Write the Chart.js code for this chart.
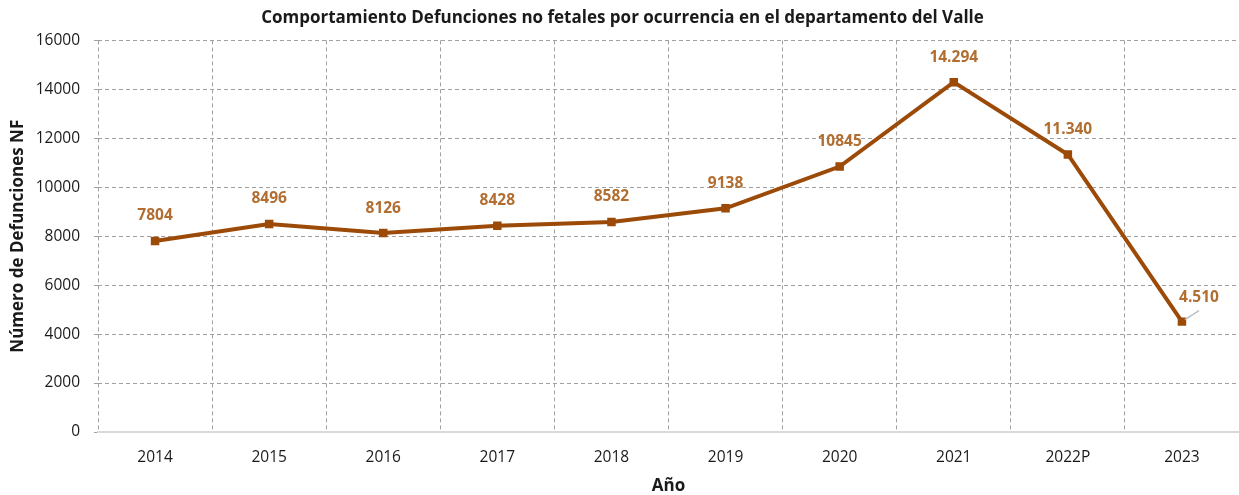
<!DOCTYPE html>
<html>
<head>
<meta charset="utf-8">
<script src="https://cdn.jsdelivr.net/npm/chart.js@4"></script>
<style>
    html, body { margin: 0; padding: 0; background: #fff; overflow: hidden; }
    #wrap { width: 1245px; height: 495px; }
</style>
</head>
<body>
<div id="wrap"><canvas id="chart1" width="1245" height="495"></canvas></div>
<script>
// datos
const years = ['2014', '2015', '2016', '2017', '2018', '2019', '2020', '2021', '2022P', '2023'];
const defunciones = [7804, 8496, 8126, 8428, 8582, 9138, 10845, 14294, 11340, 4510];
const valueLabels = ['7804', '8496', '8126', '8428', '8582', '9138', '10845', '14.294', '11.340', '4.510'];
const yTicks = [0, 2000, 4000, 6000, 8000, 10000, 12000, 14000, 16000];

const lineColor = 'rgb(156, 74, 8)';
const labelColor = 'rgb(178, 110, 48)';
const gridColor = 'rgb(160, 160, 160)';
const fontFam = 'Open Sans';

// etiquetas de valor sobre cada punto
const valueLabelPlugin = {
    id: 'valueLabels',
    afterDatasetsDraw(chart) {
        const ctx = chart.ctx;
        const meta = chart.getDatasetMeta(0);
        ctx.save();
        ctx.font = 'bold 15.5px ' + fontFam;
        ctx.fillStyle = labelColor;
        ctx.textAlign = 'center';
        ctx.textBaseline = 'middle';
        meta.data.forEach(function (pt, i) {
            if (i === meta.data.length - 1) {
                // ultima etiqueta desplazada con linea guia
                ctx.strokeStyle = 'rgb(190,190,190)';
                ctx.lineWidth = 1.5;
                ctx.beginPath();
                ctx.moveTo(pt.x + 3, pt.y - 2);
                ctx.lineTo(pt.x + 17, pt.y - 11);
                ctx.stroke();
                ctx.fillText(valueLabels[i], pt.x + 17, pt.y - 24);
            } else {
                ctx.fillText(valueLabels[i], pt.x, pt.y - 25);
            }
        });
        ctx.restore();
    }
};

const data = {
    labels: years,
    datasets: [{
        data: defunciones,
        borderColor: lineColor,
        backgroundColor: lineColor,
        borderWidth: 4,
        pointStyle: 'rect',
        pointRadius: 6,
        pointBorderWidth: 0,
        tension: 0
    }]
};

const config = {
    type: 'line',
    data: data,
    options: {
        responsive: false,
        animation: false,
        layout: { padding: 0 },
        scales: {
            x: {
                offset: true,
                grid: {
                    offset: true,
                    color: gridColor,
                    lineWidth: 1,
                    drawTicks: false
                },
                border: { display: true, color: 'rgb(217,217,217)', width: 2, dash: [4, 3] },
                ticks: {
                    color: '#1a1a1a',
                    font: { family: fontFam, size: 15.5 },
                    padding: 16,
                    maxRotation: 0
                },
                title: {
                    display: true,
                    text: 'Año',
                    color: '#1a1a1a',
                    font: { family: fontFam, size: 17, weight: 'bold', lineHeight: 1 },
                    padding: { top: 0, bottom: 0 }
                },
                afterFit: function (scale) { scale.height = 63; }
            },
            y: {
                min: 0,
                max: 16000,
                afterBuildTicks: function (scale) {
                    scale.ticks = yTicks.map(function (v) { return { value: v }; });
                },
                grid: {
                    color: gridColor,
                    lineWidth: 1,
                    drawTicks: true,
                    tickLength: 4
                },
                border: { display: false, dash: [4, 3] },
                ticks: {
                    color: '#1a1a1a',
                    font: { family: fontFam, size: 15.5 },
                    padding: 14,
                    callback: function (v) { return String(v); }
                },
                title: {
                    display: true,
                    text: 'Número de Defunciones NF',
                    color: '#1a1a1a',
                    font: { family: fontFam, size: 17, weight: 'bold' },
                    padding: { top: 8, bottom: 0 }
                },
                afterFit: function (scale) { scale.width = 98; }
            }
        },
        plugins: {
            legend: { display: false },
            tooltip: { enabled: false },
            title: {
                display: true,
                text: 'Comportamiento Defunciones no fetales por ocurrencia en el departamento del Valle',
                color: '#1a1a1a',
                font: { family: fontFam, size: 17, weight: 'bold', lineHeight: 1.2 },
                padding: { top: 8, bottom: 12 }
            }
        }
    },
    plugins: [valueLabelPlugin]
};

const myLineChart = new Chart(document.getElementById('chart1'), config);
</script>
</body>
</html>
